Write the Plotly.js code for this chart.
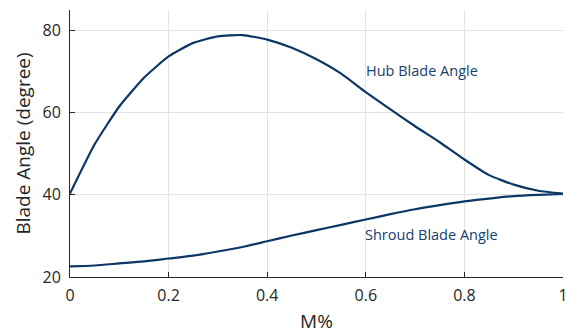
<!DOCTYPE html>
<html>
<head>
<meta charset="utf-8">
<script src="https://cdn.plot.ly/plotly-3.0.1.min.js"></script>
<style>
  html, body { margin: 0; padding: 0; background: #fff; }
  #chart { width: 571px; height: 334px; }
</style>
</head>
<body>
<div id="chart"></div>
<script>
// Meridional position (fraction of passage length)
const mPos = [0, 0.05, 0.1, 0.15, 0.2, 0.25, 0.3, 0.35, 0.4, 0.45, 0.5,
              0.55, 0.6, 0.65, 0.7, 0.75, 0.8, 0.85, 0.9, 0.95, 1];

// Blade angle distributions (degrees)
const hubAngle = [40.3, 52.3, 61.5, 68.5, 73.7, 77.0, 78.6, 78.9, 77.8, 75.8, 73.0,
                  69.5, 65.0, 60.8, 56.7, 52.8, 48.6, 44.8, 42.5, 41.0, 40.3];
const shroudAngle = [22.6, 22.8, 23.3, 23.8, 24.5, 25.2, 26.2, 27.3, 28.7, 30.1, 31.4,
                     32.7, 34.0, 35.3, 36.5, 37.5, 38.4, 39.1, 39.7, 40.0, 40.2];

const xTicks = [0, 0.2, 0.4, 0.6, 0.8, 1];
const xTickText = ['0', '0.2', '0.4', '0.6', '0.8', '1'];
const yTicks = [20, 40, 60, 80];

const lineColor = '#0b3767';
const labelColor = '#17406f';
const font = 'Open Sans, Noto Sans, sans-serif';
const inkColor = '#262626';

const traces = [
  { x: mPos, y: hubAngle, mode: 'lines', name: 'Hub Blade Angle',
    line: { color: lineColor, width: 2.2, shape: 'spline', smoothing: 0.5 } },
  { x: mPos, y: shroudAngle, mode: 'lines', name: 'Shroud Blade Angle',
    line: { color: lineColor, width: 2.2, shape: 'spline', smoothing: 0.7 } }
];

const layout = {
  width: 571, height: 334,
  margin: { l: 70, r: 8, t: 10, b: 57 },
  paper_bgcolor: '#fff', plot_bgcolor: '#fff',
  showlegend: false,
  font: { family: font, color: inkColor },
  xaxis: {
    range: [0, 1],
    tickvals: xTicks, ticktext: xTickText,
    ticks: 'inside', ticklen: 5, tickcolor: inkColor,
    showline: true, linecolor: inkColor, linewidth: 1,
    showgrid: true, gridcolor: '#e3e3e3', gridwidth: 1,
    zeroline: false,
    ticklabelstandoff: 4,
    tickfont: { size: 16, family: font, color: inkColor },
    title: { text: 'M%', font: { size: 19, family: font, color: inkColor }, standoff: 10 }
  },
  yaxis: {
    range: [20, 85],
    tickvals: yTicks,
    ticks: 'inside', ticklen: 5, tickcolor: inkColor,
    showline: true, linecolor: inkColor, linewidth: 1,
    showgrid: true, gridcolor: '#e3e3e3', gridwidth: 1,
    zeroline: false,
    ticklabelstandoff: 5,
    tickfont: { size: 16, family: font, color: inkColor },
    title: { text: 'Blade Angle (degree)', font: { size: 19, family: font, color: inkColor }, standoff: 6 }
  },
  annotations: [
    { x: 0.714, y: 70.3, xref: 'x', yref: 'y', text: 'Hub Blade Angle', showarrow: false,
      font: { size: 14.5, family: font, color: labelColor } },
    { x: 0.734, y: 30.4, xref: 'x', yref: 'y', text: 'Shroud Blade Angle', showarrow: false,
      font: { size: 14.5, family: font, color: labelColor } }
  ]
};

Plotly.newPlot('chart', traces, layout, { displayModeBar: false, staticPlot: true });
</script>
</body>
</html>
